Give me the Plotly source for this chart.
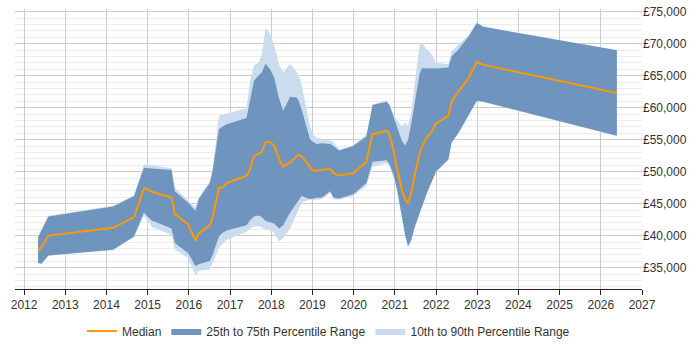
import plotly.graph_objects as go

years = [2012.34, 2012.42, 2012.59, 2014.16, 2014.67, 2014.91, 2014.97, 2015.10, 2015.58, 2015.66,
         2015.98, 2016.16, 2016.24, 2016.51, 2016.58, 2016.73, 2016.81, 2016.92, 2017.40, 2017.48,
         2017.58, 2017.69, 2017.77, 2017.86, 2017.97, 2018.07, 2018.19, 2018.29, 2018.46, 2018.62,
         2018.67, 2018.74, 2018.94, 2019.00, 2019.10, 2019.23, 2019.43, 2019.51, 2019.65, 2019.99,
         2020.31, 2020.46, 2020.80, 2020.87, 2020.97, 2021.06, 2021.17, 2021.25, 2021.32, 2021.40,
         2021.49, 2021.60, 2021.66, 2021.78, 2021.90, 2022.00, 2022.30, 2022.38, 2022.54, 2022.79,
         2022.99, 2023.15, 2026.39]

median = [37650, 38170, 40000, 41220, 42900, 47360, 47320, 46860, 45950, 43400,
          41770, 39240, 40350, 41620, 42900, 47470, 47470, 48230, 49340, 50260,
          52390, 52700, 53050, 54600, 54580, 54070, 52000, 50800, 51430, 52400,
          52650, 52400, 50700, 50260, 50150, 50300, 50410, 49750, 49390, 49750,
          51530, 55850, 56360, 55850, 53310, 50260, 47210, 45690, 45080, 46700,
          49750, 52800, 53900, 55400, 56300, 57530, 58700, 60930, 62500, 64590,
          67130, 66680, 62300]

p25 = [35780, 35600, 36900, 37800, 39850, 43650, 43140, 42380, 41110, 38830,
       37300, 35270, 35520, 36030, 37050, 39850, 40400, 40800, 41620, 42380,
       43000, 43140, 42900, 42300, 42100, 41900, 41110, 41620, 43650, 45000,
       45500, 46190, 45690, 45800, 45900, 45940, 46950, 45940, 45790, 46450,
       48230, 51530, 51780, 51200, 49500, 47000, 43140, 40100, 38330, 39340,
       41500, 43500, 44500, 46700, 48500, 50000, 51890, 54580, 56000, 58900,
       61080, 60930, 55590]

p75 = [39740, 40800, 43000, 44570, 46190, 50610, 50600, 50500, 50260, 46950,
       45180, 43900, 45690, 48230, 50260, 56620, 57000, 57400, 58380, 60930,
       64200, 65000, 65500, 66870, 66000, 64740, 61430, 59500, 61700, 61590,
       61000, 59660, 55090, 54700, 54330, 54420, 54330, 54000, 53310, 54000,
       55500, 60420, 60930, 60400, 58500, 57000, 54830, 54070, 54930, 57500,
       60930, 65250, 66160, 66150, 66120, 66110, 66270, 68040, 69060, 71100,
       73230, 72620, 68960]

p10 = [35700, 35500, 36850, 37750, 39800, 43140, 42600, 41370, 40100, 37810,
       36540, 33750, 34510, 34760, 35780, 38070, 38700, 39340, 40610, 41110,
       41400, 41500, 41300, 40900, 40800, 40500, 39090, 39600, 41110, 43500,
       44200, 45180, 45690, 45600, 45600, 45700, 46700, 45700, 45600, 46200,
       47800, 50760, 51300, 50800, 49000, 46800, 43000, 39900, 38200, 39200,
       41400, 43400, 44400, 46600, 48400, 49900, 51800, 54500, 55900, 58800,
       61000, 60880, 55550]

p90 = [39900, 40900, 43100, 44650, 46300, 51120, 51150, 51000, 50520, 47470,
       45430, 44420, 46000, 48500, 50500, 58640, 58900, 59100, 59910, 63980,
       66600, 67030, 68290, 72360, 71600, 69800, 66770, 65500, 66870, 65500,
       65000, 63480, 57120, 56000, 55300, 55090, 54900, 54600, 53400, 54070,
       55850, 60500, 61100, 60500, 58900, 58000, 57120, 57620, 57120, 59410,
       64000, 69820, 70080, 69060, 68290, 67030, 66770, 68800, 69820, 71300,
       73300, 72650, 69000]

tick_years = list(range(2012, 2028))

LIGHT = "#cbdcee"
DARK = "#6f95be"
ORANGE = "#ff9900"

fig = go.Figure()
fig.add_trace(go.Scatter(x=years, y=p10, mode="lines", line=dict(width=0, color=LIGHT),
                         showlegend=False, hoverinfo="skip"))
fig.add_trace(go.Scatter(x=years, y=p90, mode="lines", line=dict(width=0, color=LIGHT),
                         fill="tonexty", fillcolor=LIGHT, name="10th to 90th Percentile Range",
                         legendrank=3, hoverinfo="skip"))
fig.add_trace(go.Scatter(x=years, y=p25, mode="lines", line=dict(width=0, color=DARK),
                         showlegend=False, hoverinfo="skip"))
fig.add_trace(go.Scatter(x=years, y=p75, mode="lines", line=dict(width=0, color=DARK),
                         fill="tonexty", fillcolor=DARK, name="25th to 75th Percentile Range",
                         legendrank=2, hoverinfo="skip"))
fig.add_trace(go.Scatter(x=years, y=median, mode="lines", line=dict(width=2, color=ORANGE),
                         name="Median", legendrank=1))

fig.update_layout(
    width=700, height=350,
    margin=dict(l=15, r=58, t=5, b=58),
    paper_bgcolor="white", plot_bgcolor="white",
    font=dict(family="Liberation Sans, Arial, sans-serif", size=12, color="#333"),
    legend=dict(orientation="h", x=0.5, xanchor="center", y=-0.15, yanchor="middle",
                traceorder="normal",
                font=dict(size=12, color="#333"), itemwidth=30, tracegroupgap=0),
    xaxis=dict(range=[2011.78, 2027.0], tickmode="array", tickvals=tick_years,
               ticktext=[str(y) for y in tick_years], showgrid=True, gridcolor="#cccccc",
               gridwidth=1, zeroline=False, showline=True, linecolor="#222", linewidth=1,
               ticks="outside", ticklen=5, tickcolor="#222"),
    yaxis=dict(range=[31660, 75410], side="right", dtick=5000, tick0=0,
               tickprefix="£", tickformat=",d", showgrid=True, gridcolor="#cccccc",
               gridwidth=1, zeroline=False, showline=False, ticks="",
               minor=dict(dtick=1000, tick0=0, showgrid=True, gridcolor="#ebebeb", gridwidth=1)),
)

fig.write_html("out.html")
